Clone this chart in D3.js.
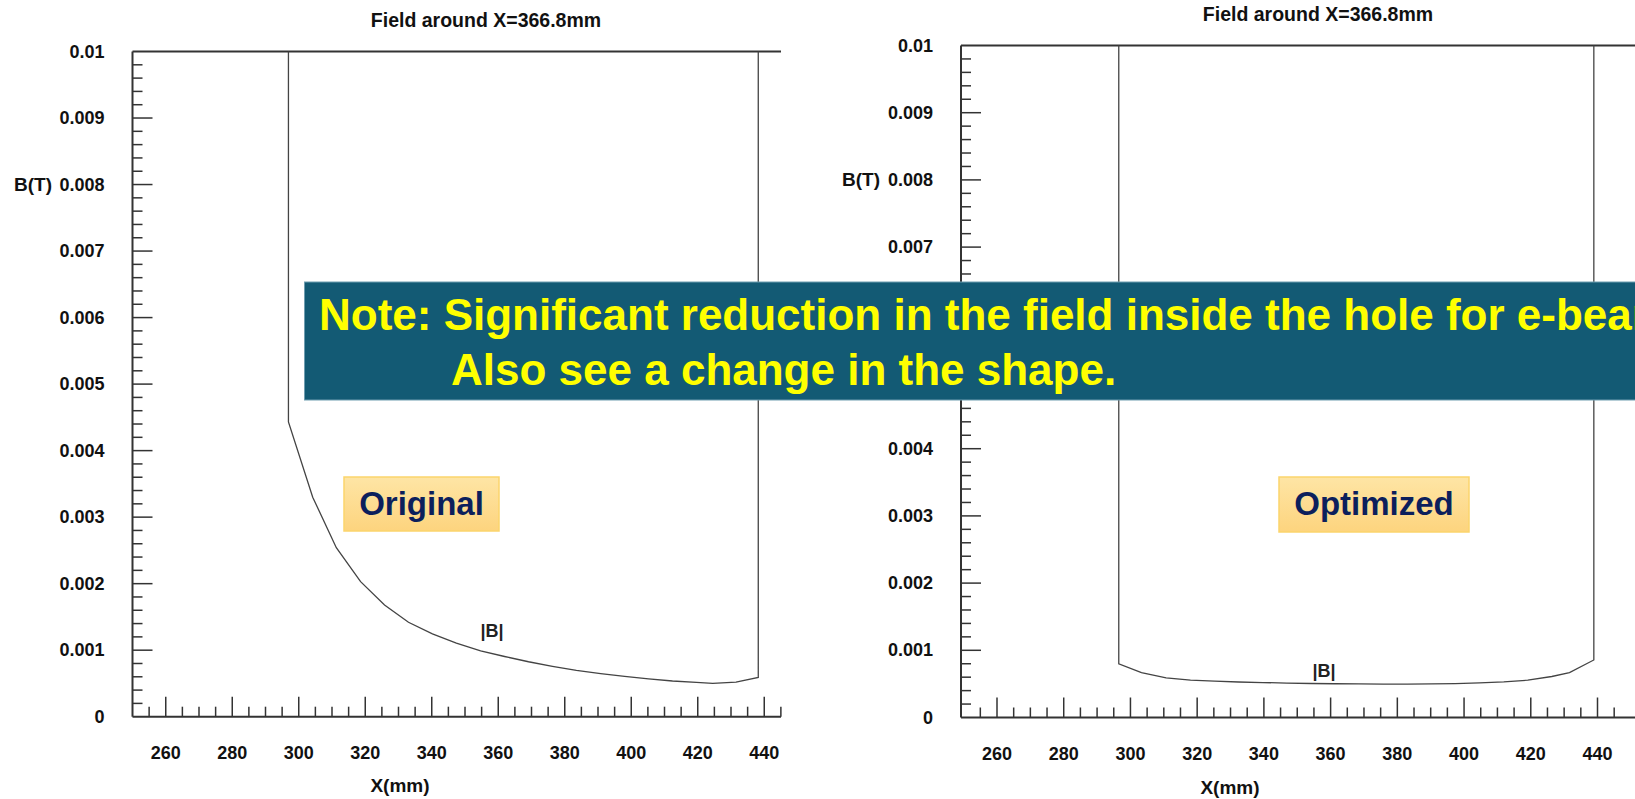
<!DOCTYPE html>
<html>
<head>
<meta charset="utf-8">
<script src="https://cdn.jsdelivr.net/npm/d3@7"></script>
<style>
  body { margin: 0; background: #fff; }
  svg { display: block; font-family: "Liberation Sans", Arial, sans-serif; }
</style>
</head>
<body>
<svg id="chart" width="1635" height="799"></svg>
<script>
// x positions (mm) and |B| (T)
const originalX = [296.9, 296.9, 304.2, 311.3, 318.6, 325.8, 333.0, 340.2, 347.4, 354.7, 361.9, 369.1,
  376.3, 383.5, 390.8, 398.0, 405.2, 412.4, 419.6, 424.5, 431.5, 438.2, 438.2];
const originalB = [0.01, 0.00443, 0.0033, 0.00254, 0.00203, 0.00168, 0.00142, 0.001245, 0.001105, 0.00099,
  0.000905, 0.000826, 0.000757, 0.000696, 0.000647, 0.000605, 0.000568, 0.000537, 0.000515, 0.000502,
  0.00052, 0.00059, 0.01];

const optimizedX = [296.5, 296.5, 303.3, 310.7, 318.0, 325.2, 332.4, 339.7, 346.9, 354.1, 361.3, 368.5,
  375.8, 383.0, 390.2, 397.4, 404.6, 411.9, 419.1, 426.3, 431.6, 438.9, 438.9];
const optimizedB = [0.01, 0.0008, 0.000667, 0.00059, 0.000556, 0.00054, 0.000528, 0.00052, 0.000512,
  0.000506, 0.000502, 0.000499, 0.000497, 0.000497, 0.000499, 0.000505, 0.000515, 0.00053, 0.000555,
  0.00061, 0.000667, 0.000856, 0.01];

const xTickValues = [260, 280, 300, 320, 340, 360, 380, 400, 420, 440];
const xMinorValues = d3.range(255, 446, 5).filter((d) => d % 20 !== 0);
const yTickValues = [0, 0.001, 0.002, 0.003, 0.004, 0.005, 0.006, 0.007, 0.008, 0.009, 0.01];
const yTickLabels = ["0", "0.001", "0.002", "0.003", "0.004", "0.005", "0.006", "0.007", "0.008", "0.009", "0.01"];
const yMinorValues = d3.range(0, 50).map((i) => i * 0.0002).filter((d, i) => i % 5 !== 0);

const chartTitle = "Field around X=366.8mm";
const noteLines = ["Note: Significant reduction in the field inside the hole for e-beam.",
  "Also see a change in the shape."];

const svg = d3.select("#chart");
const axisColor = "#333";

const panels = [
  { xs: originalX, ys: originalB, tag: "Original",
    axisX: 132.5, x260: 165.75, x440: 764.25, lineEnd: 781, bottom: 716.7, top: 51.5,
    title: [486, 26.5], yLabel: [14, 6], xLabel: [400, 792], bLabel: [492, 637],
    box: [344, 477, 155, 54] },
  { xs: optimizedX, ys: optimizedB, tag: "Optimized",
    axisX: 961, x260: 997, x440: 1597.5, lineEnd: 1640, bottom: 717.5, top: 45.5,
    title: [1318, 20.5], yLabel: [842, 6], xLabel: [1230, 794], bLabel: [1324, 677],
    box: [1279, 477, 190, 55] },
];

const defs = svg.append("defs");
const grad = defs.append("linearGradient").attr("id", "tagfill").attr("x1", 0).attr("y1", 0).attr("x2", 0).attr("y2", 1);
grad.append("stop").attr("offset", "0%").attr("stop-color", "#fee5a5");
grad.append("stop").attr("offset", "100%").attr("stop-color", "#fdd47e");

panels.forEach((p) => {
  const x = d3.scaleLinear().domain([260, 440]).range([p.x260, p.x440]);
  const y = d3.scaleLinear().domain([0, 0.01]).range([p.bottom, p.top]);
  const g = svg.append("g");

  // frame: y axis, top line, x axis
  g.append("line").attr("x1", p.axisX).attr("x2", p.axisX).attr("y1", p.top).attr("y2", p.bottom)
    .attr("stroke", axisColor).attr("stroke-width", 2);
  g.append("line").attr("x1", p.axisX).attr("x2", p.lineEnd).attr("y1", p.top).attr("y2", p.top)
    .attr("stroke", axisColor).attr("stroke-width", 2);
  g.append("line").attr("x1", p.axisX).attr("x2", p.lineEnd).attr("y1", p.bottom).attr("y2", p.bottom)
    .attr("stroke", axisColor).attr("stroke-width", 2);

  // x ticks pointing up
  g.selectAll(".xmaj").data(xTickValues).join("line")
    .attr("x1", (d) => x(d)).attr("x2", (d) => x(d))
    .attr("y1", p.bottom).attr("y2", p.bottom - 20)
    .attr("stroke", axisColor).attr("stroke-width", 1.5);
  g.selectAll(".xmin").data(xMinorValues).join("line")
    .attr("x1", (d) => x(d)).attr("x2", (d) => x(d))
    .attr("y1", p.bottom).attr("y2", p.bottom - 10)
    .attr("stroke", axisColor).attr("stroke-width", 1.5);
  g.selectAll(".xlab").data(xTickValues).join("text")
    .attr("x", (d) => x(d)).attr("y", p.bottom + 42)
    .attr("text-anchor", "middle").attr("font-size", 18).attr("font-weight", "bold")
    .attr("fill", "#111").text((d) => d);

  // y ticks pointing right
  g.selectAll(".ymaj").data(yTickValues.slice(1, -1)).join("line")
    .attr("x1", p.axisX).attr("x2", p.axisX + 20)
    .attr("y1", (d) => y(d)).attr("y2", (d) => y(d))
    .attr("stroke", axisColor).attr("stroke-width", 1.5);
  g.selectAll(".ymin").data(yMinorValues).join("line")
    .attr("x1", p.axisX).attr("x2", p.axisX + 10)
    .attr("y1", (d) => y(d)).attr("y2", (d) => y(d))
    .attr("stroke", axisColor).attr("stroke-width", 1.5);
  g.selectAll(".ylab").data(yTickValues).join("text")
    .attr("x", p.axisX - 28).attr("y", (d) => y(d) + 6)
    .attr("text-anchor", "end").attr("font-size", 18).attr("font-weight", "bold")
    .attr("fill", "#111").text((d, i) => yTickLabels[i]);

  // titles
  g.append("text").attr("x", p.title[0]).attr("y", p.title[1])
    .attr("text-anchor", "middle").attr("font-size", 19.5).attr("font-weight", "bold")
    .attr("fill", "#111").text(chartTitle);
  g.append("text").attr("x", p.yLabel[0]).attr("y", y(0.008) + p.yLabel[1])
    .attr("font-size", 19).attr("font-weight", "bold").attr("fill", "#111").text("B(T)");
  g.append("text").attr("x", p.xLabel[0]).attr("y", p.xLabel[1])
    .attr("text-anchor", "middle").attr("font-size", 19).attr("font-weight", "bold")
    .attr("fill", "#111").text("X(mm)");

  // |B| curve
  const line = d3.line().x((d) => x(d[0])).y((d) => y(d[1]));
  g.append("path").datum(d3.zip(p.xs, p.ys))
    .attr("d", line).attr("fill", "none")
    .attr("stroke", "#444").attr("stroke-width", 1.3);
  g.append("text").attr("x", p.bLabel[0]).attr("y", p.bLabel[1])
    .attr("text-anchor", "middle").attr("font-size", 18).attr("font-weight", "bold")
    .attr("fill", "#222").text("|B|");

  // tag box
  g.append("rect").attr("x", p.box[0]).attr("y", p.box[1])
    .attr("width", p.box[2]).attr("height", p.box[3])
    .attr("fill", "url(#tagfill)").attr("stroke", "#fbd56c").attr("stroke-width", 1.5);
  g.append("text").attr("x", p.box[0] + p.box[2] / 2).attr("y", p.box[1] + 38)
    .attr("text-anchor", "middle").attr("font-size", 33).attr("font-weight", "bold")
    .attr("fill", "#0c1f5c").text(p.tag);
});

// note banner
const note = svg.append("g");
note.append("rect").attr("x", 304.5).attr("y", 282).attr("width", 1400).attr("height", 118)
  .attr("fill", "#135a74").attr("stroke", "#6f9db0").attr("stroke-width", 1);
note.selectAll("text").data(noteLines).join("text")
  .attr("x", (d, i) => (i === 0 ? 319 : 451))
  .attr("y", (d, i) => (i === 0 ? 330 : 385))
  .attr("font-size", 44).attr("font-weight", "bold").attr("fill", "#ffff00")
  .text((d) => d);
</script>
</body>
</html>
